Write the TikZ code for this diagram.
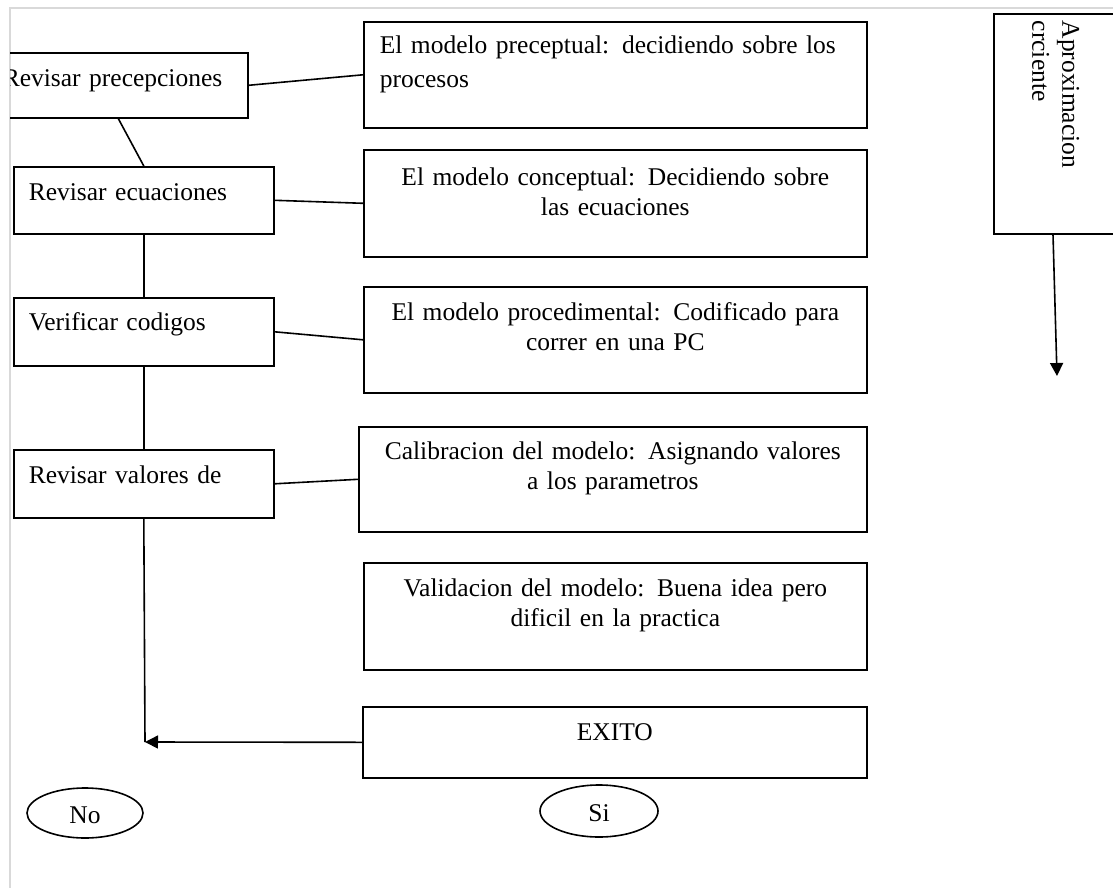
\documentclass[tikz,border=0pt]{standalone}
\usepackage{fontspec}
\setmainfont{Liberation Serif}[WordSpace=1.7]
\usetikzlibrary{arrows.meta,shapes.geometric,calc}

\begin{document}
\begin{tikzpicture}[x=0.5pt,y=-0.5pt,
  line width=0.8pt,
  txt/.style={font=\fontsize{12.75pt}{15pt}\selectfont},
  box/.style={draw, rectangle, anchor=north west, inner ysep=0pt, txt},
  oval/.style={draw, ellipse, inner sep=0pt, txt, text height=10pt, text depth=-6pt},
  tip/.style={-{Triangle[length=6.5pt,width=6.5pt]}},
  frame/.style={draw=black!15, line width=1pt}
]
\useasboundingbox (0,0) rectangle (1113,888);

% page frame
\draw[frame] (1113,8) -- (9.5,8) -- (9.5,888);

\begin{scope}
\clip (10,0) rectangle (1113,888);

% left column: revision steps
\node[box, inner xsep=7pt, text width=115.5pt, text height=17pt, text depth=15.5pt, align=left]
  (b1) at (-12,52) {Revisar precepciones};
\node[box, inner xsep=7.5pt, text width=115pt, text height=17pt, text depth=16.5pt, align=left]
  (b2) at (13,166) {Revisar ecuaciones};
\node[box, inner xsep=7.5pt, text width=115pt, text height=16.5pt, text depth=17.5pt, align=left]
  (b3) at (13,297) {Verificar codigos};
\node[box, inner xsep=7.5pt, text width=115pt, text height=17pt, text depth=17pt, align=left]
  (b4) at (13,449) {Revisar valores de};

% right column: model stages
\node[box, inner xsep=8pt, text width=235.5pt, text height=16pt, text depth=37pt, align=left,
  font=\fontsize{12.75pt}{17pt}\selectfont]
  (r1) at (363,21) {El modelo preceptual: decidiendo sobre los\\procesos};
\node[box, inner xsep=8pt, text width=235.5pt, text height=18pt, text depth=35.5pt, align=center]
  (r2) at (363,149) {El modelo conceptual: Decidiendo sobre\\las ecuaciones};
\node[box, inner xsep=8pt, text width=235.5pt, text height=17pt, text depth=36pt, align=center]
  (r3) at (363,286) {El modelo procedimental: Codificado para\\correr en una PC};
\node[box, inner xsep=8pt, text width=238pt, text height=16.5pt, text depth=36pt, align=center]
  (r4) at (358,426) {Calibracion del modelo: Asignando valores\\a los parametros};
\node[box, inner xsep=8pt, text width=235.5pt, text height=17pt, text depth=36.5pt, align=center]
  (r5) at (363,562) {Validacion del modelo: Buena idea pero\\dificil en la practica};
\node[box, inner xsep=8pt, text width=236pt, text height=17pt, text depth=18.5pt, align=center]
  (ex) at (362,706) {EXITO};

% outcomes
\node[oval, minimum width=58pt, minimum height=25pt] (no) at (85,813) {No};
\node[oval, minimum width=59pt, minimum height=26pt] (si) at (599,811) {Si};

% side bar
\node[draw, rectangle, anchor=north west, minimum width=66pt, minimum height=110pt, inner sep=0pt]
  (ap) at (993,13) {};
\node[rotate=-90, anchor=north west, inner sep=0pt, align=left,
  font=\fontsize{12.75pt}{15pt}\selectfont]
  (aptxt) at (1080,20) {Aproximacion\\crciente};
\coordinate (apend) at (1057,376);

% connectors
\coordinate (join) at (145,742);
\draw (b1.south) -- (b2.north);
\draw (b2.south) -- (b3.north);
\draw (b3.south) -- (b4.north);
\draw (b4.south) -- (join);
\draw (b1.east) -- (r1.west);
\draw (b2.east) -- (r2.west);
\draw (b3.east) -- (r3.west);
\draw (b4.east) -- (r4.west);
\draw[tip] (ex.west) -- (join);
\draw[tip] ($(ap.south west)+(60,0)$) -- (apend);
\end{scope}
\end{tikzpicture}
\end{document}
